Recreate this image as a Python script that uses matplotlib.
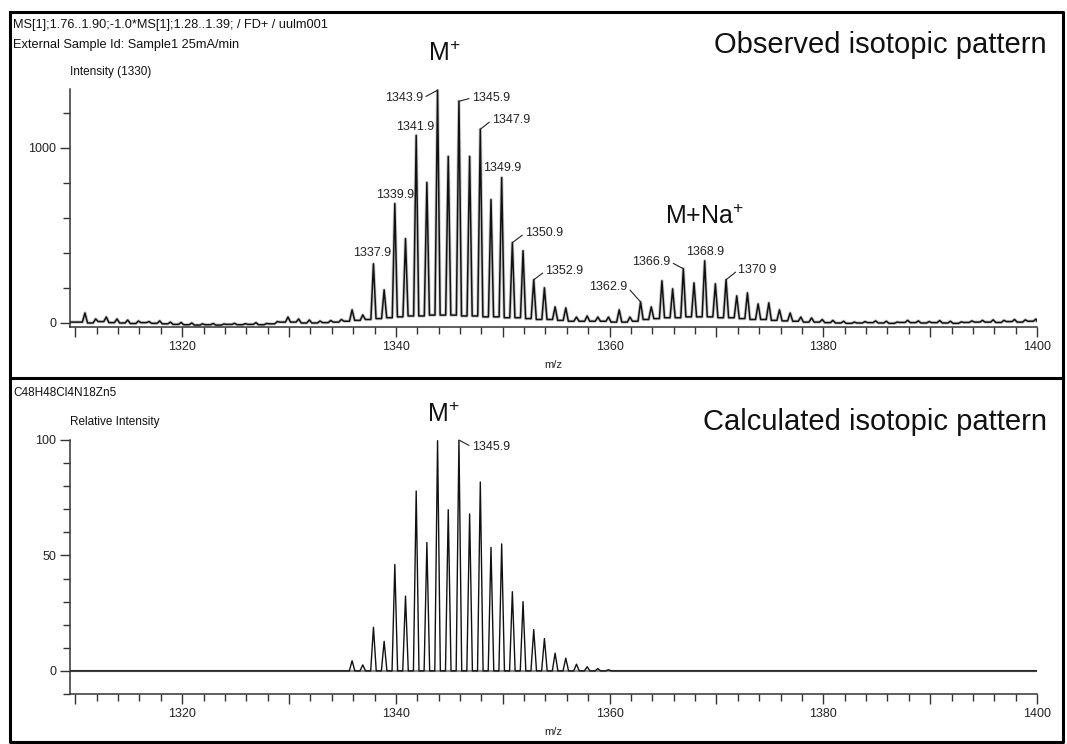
import matplotlib
matplotlib.use("Agg")
import matplotlib.pyplot as plt
from matplotlib.ticker import MultipleLocator, FuncFormatter
from matplotlib.lines import Line2D
import numpy as np

plt.rcParams['font.family'] = ['Liberation Sans', 'DejaVu Sans']
plt.rcParams['mathtext.fontset'] = 'custom'
plt.rcParams['mathtext.rm'] = 'Liberation Sans'
plt.rcParams['mathtext.it'] = 'Liberation Sans:italic'

W, H = 1067, 744

# observed spectrum: peak tops at every nominal mass (1310.9 .. 1399.9)
obs_mz = np.arange(1310.9, 1400.0, 1.0)
obs_peak = [57, 23, 34, 23, 17, 11, 8, 12, 5, 3,
            0, -5, -3, -6, -2, -4, 2, -3, 8, 34,
            23, 17, 11, 14, 20, 75, 46, 338, 189, 682,
            482, 1072, 803, 1330, 952, 1267, 952, 1107, 705, 831,
            459, 413, 247, 201, 92, 86, 34, 40, 34, 34,
            75, 34, 120, 92, 241, 195, 310, 229, 355, 224,
            247, 155, 172, 109, 115, 75, 57, 34, 29, 20,
            15, 10, 5, 8, 12, 10, 5, 15, 12, 8,
            14, 10, 6, 12, 15, 18, 15, 20, 18, 22]
# trace level in the valley just before each peak
obs_valley = [5, 0, 8, 2, 0, -3, 2, -2, -5, -8,
              -10, -12, -10, -12, -8, -10, -8, -10, -5, 5,
              5, 0, 0, 2, 5, 10, 15, 20, 25, 30,
              35, 40, 40, 45, 45, 45, 40, 40, 35, 35,
              30, 30, 25, 20, 20, 15, 10, 10, 10, 10,
              5, 5, 10, 20, 25, 30, 30, 35, 35, 35,
              30, 30, 25, 20, 20, 15, 12, 10, 5, 5,
              2, 0, -2, 0, 2, 0, -2, 3, 2, 0,
              2, 0, -2, 3, 5, 5, 3, 8, 5, 10]

# calculated pattern for C48H48Cl4N18Zn5 (relative intensity)
calc_mz = np.arange(1335.9, 1360.0, 1.0)
calc_rel = [4.4, 2.6, 18.9, 12.8, 46.1, 32.4, 77.9, 55.6, 99.7, 69.8,
            100, 68.0, 81.8, 53.5, 55.0, 34.3, 30.0, 17.9, 14.0, 7.7,
            5.5, 2.9, 1.8, 1.0, 0.5]
calc_valley = [0] * len(calc_rel)

XMIN, XMAX = 1309.5, 1400


def profile(mz, peak, valley, half):
    xs, ys = [XMIN], [valley[0]]
    for k, m in enumerate(mz):
        nxt = valley[k + 1] if k + 1 < len(valley) else valley[-1]
        xs += [m - half, m, m + half]
        ys += [valley[k], peak[k], nxt]
    xs.append(XMAX)
    ys.append(valley[-1])
    return xs, ys


def style(ax):
    for s in ['top', 'right']:
        ax.spines[s].set_visible(False)
    for s in ['left', 'bottom']:
        ax.spines[s].set_linewidth(1.1)
        ax.spines[s].set_color('#333333')
    ax.set_xlim(XMIN, XMAX)
    ax.xaxis.set_major_locator(MultipleLocator(10))
    ax.xaxis.set_minor_locator(MultipleLocator(2))
    ax.xaxis.set_major_formatter(FuncFormatter(
        lambda v, p: '%d' % round(v) if round(v) % 20 == 0 else ''))
    ax.tick_params(which='major', length=7, width=1, labelsize=9, pad=3,
                   color='#333333', labelcolor='#222222')
    ax.tick_params(which='minor', length=5, width=1, color='#333333')
    ax.set_xlabel('m/z', fontsize=8, labelpad=5, color='#222222')
    ax.patch.set_alpha(0)


fig = plt.figure(figsize=(W / 100, H / 100), dpi=100)

# ---- observed
ax1 = fig.add_axes([70 / W, 1 - 327 / H, 967 / W, (327 - 89) / H])
style(ax1)
ax1.set_ylim(-23, 1337)
ax1.yaxis.set_major_locator(MultipleLocator(1000))
ax1.yaxis.set_minor_locator(MultipleLocator(200))
xs, ys = profile(obs_mz, obs_peak, obs_valley, 0.24)
ax1.plot(xs, ys, color='#9a9a9a', lw=2.4, alpha=0.5)
ax1.plot(xs, ys, color='#111111', lw=1.1)

arrow = dict(arrowstyle='-', lw=0.8, color='#222222', shrinkA=0, shrinkB=0)
obs_labels = [
    ('1343.9', 1343.9, 1330, 1342.55, 1286, 'right'),
    ('1345.9', 1345.9, 1267, 1347.1, 1286, 'left'),
    ('1341.9', None, None, 1341.8, 1120, 'center'),
    ('1347.9', 1347.9, 1107, 1349.0, 1160, 'left'),
    ('1339.9', None, None, 1339.9, 731, 'center'),
    ('1349.9', None, None, 1349.95, 886, 'center'),
    ('1350.9', 1350.9, 459, 1352.1, 514, 'left'),
    ('1337.9', None, None, 1337.8, 400, 'center'),
    ('1352.9', 1352.9, 247, 1354.0, 297, 'left'),
    ('1362.9', 1362.9, 120, 1361.65, 206, 'right'),
    ('1366.9', 1366.9, 310, 1365.7, 349, 'right'),
    ('1368.9', None, None, 1368.96, 406, 'center'),
    ('1370 9', 1370.9, 247, 1372.05, 303, 'left'),
]
for txt, px, py, tx, ty, ha in obs_labels:
    if px is None:
        ax1.text(tx, ty, txt, ha=ha, va='center', fontsize=9, color='#222222')
    else:
        rel = {'left': (0, 0.5), 'right': (1, 0.5)}[ha]
        ax1.annotate(txt, xy=(px, py), xytext=(tx, ty), ha=ha, va='center',
                     fontsize=9, color='#222222',
                     arrowprops=dict(arrow, relpos=rel))

# ---- calculated
ax2 = fig.add_axes([70 / W, 1 - 694 / H, 967 / W, (694 - 440) / H])
style(ax2)
ax2.set_ylim(-10, 100)
ax2.yaxis.set_major_locator(MultipleLocator(50))
ax2.yaxis.set_minor_locator(MultipleLocator(10))
xs, ys = profile(calc_mz, calc_rel, calc_valley, 0.26)
ax2.axhline(0, color='#8a8a8a', lw=1.6, zorder=1)
ax2.plot(xs, ys, color='#111111', lw=1.0, zorder=2)
ax2.annotate('1345.9', xy=(1345.9, 100), xytext=(1347.1, 97), ha='left',
             va='center', fontsize=9, color='#222222',
             arrowprops=dict(arrow, relpos=(0, 0.5)))

# ---- header texts
def ftext(x, y, s, **kw):
    fig.text(x / W, 1 - y / H, s, va='center', color='#111111', **kw)

ftext(13, 25, 'MS[1];1.76..1.90;-1.0*MS[1];1.28..1.39; / FD+ / uulm001', fontsize=9.2)
ftext(13, 45, 'External Sample Id: Sample1 25mA/min', fontsize=9.2)
ftext(70, 72, 'Intensity (1330)', fontsize=8.5)
ftext(1047, 45, 'Observed isotopic pattern', fontsize=21, ha='right')
ftext(428, 54, r'M$^{+}$', fontsize=18)
ftext(665, 217, r'M+Na$^{+}$', fontsize=18)

ftext(13, 393, 'C48H48Cl4N18Zn5', fontsize=8.5)
ftext(70, 422, 'Relative Intensity', fontsize=8.5)
ftext(1047, 422, 'Calculated isotopic pattern', fontsize=21, ha='right')
ftext(427, 415, r'M$^{+}$', fontsize=18)

# ---- frame
frame = dict(color='black', lw=2.2, transform=fig.transFigure)
L, R, T, B, M = 10 / W, 1063 / W, 1 - 12 / H, 1 - 742 / H, 1 - 378 / H
fig.add_artist(Line2D([L, R, R, L, L], [T, T, B, B, T], **frame))
fig.add_artist(Line2D([L, R], [M, M], **frame))

fig.savefig('out.png', dpi=100)
